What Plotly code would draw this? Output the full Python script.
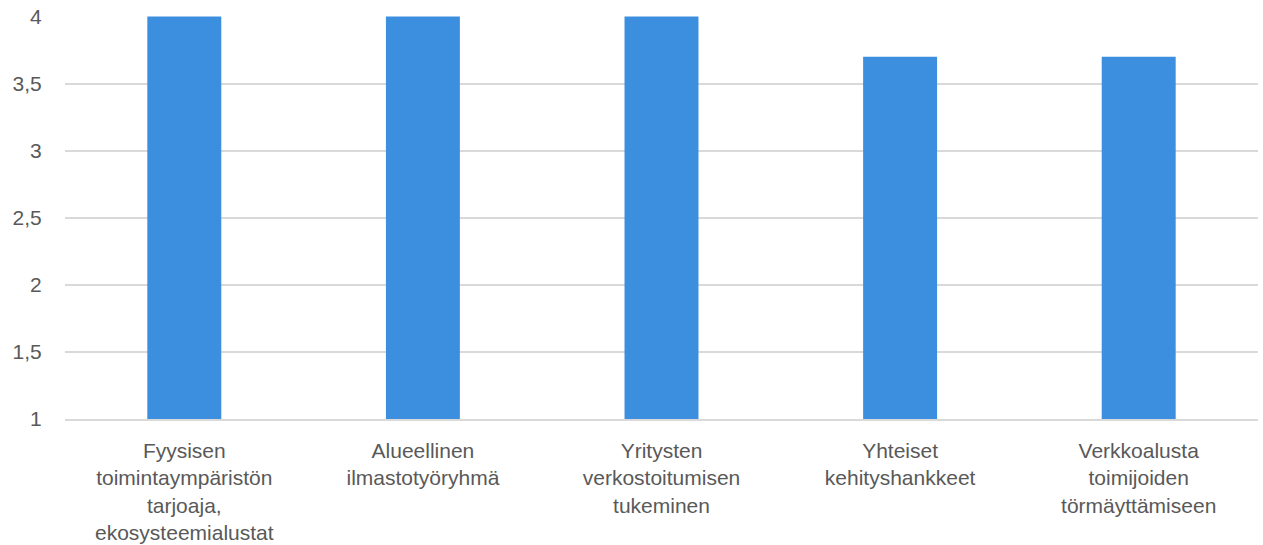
import plotly.graph_objects as go

categories = [
    "Fyysisen<br>toimintaympäristön<br>tarjoaja,<br>ekosysteemialustat",
    "Alueellinen<br>ilmastotyöryhmä",
    "Yritysten<br>verkostoitumisen<br>tukeminen",
    "Yhteiset<br>kehityshankkeet",
    "Verkkoalusta<br>toimijoiden<br>törmäyttämiseen",
]
values = [4, 4, 4, 3.7, 3.7]
y_ticks = [1, 1.5, 2, 2.5, 3, 3.5, 4]
y_tick_labels = ["1", "1,5", "2", "2,5", "3", "3,5", "4"]

fig = go.Figure(
    go.Bar(
        x=categories,
        y=[v - 1 for v in values],
        base=1,
        marker={"color": "#3C8FDE", "line": {"width": 0}},
    )
)

fig.update_layout(
    width=1263,
    height=545,
    template="plotly_white",
    plot_bgcolor="white",
    paper_bgcolor="white",
    font={"family": "Liberation Sans, Arial", "size": 21, "color": "#595959"},
    margin={"l": 65, "r": 5, "t": 16, "b": 126, "autoexpand": False},
    bargap=0.69,
    showlegend=False,
)
fig.update_xaxes(
    showgrid=False,
    showline=True,
    linecolor="#D9D9D9",
    linewidth=1.5,
    ticks="outside",
    ticklen=12,
    tickcolor="rgba(0,0,0,0)",
)
# A hair of headroom keeps the gridline at 4 drawn inside the plot area.
fig.update_yaxes(
    range=[1, 4.003],
    tickvals=y_ticks,
    ticktext=y_tick_labels,
    gridcolor="#D9D9D9",
    gridwidth=1.5,
    zeroline=False,
    ticks="outside",
    ticklen=18,
    tickcolor="rgba(0,0,0,0)",
    ticklabeloverflow="allow",
)

# Drop the default page margin so the figure sits at the window's top-left corner.
fig.write_html(
    "out.html",
    config={"displayModeBar": False},
    post_script="document.body.style.margin='0';document.body.style.overflow='hidden';",
)
